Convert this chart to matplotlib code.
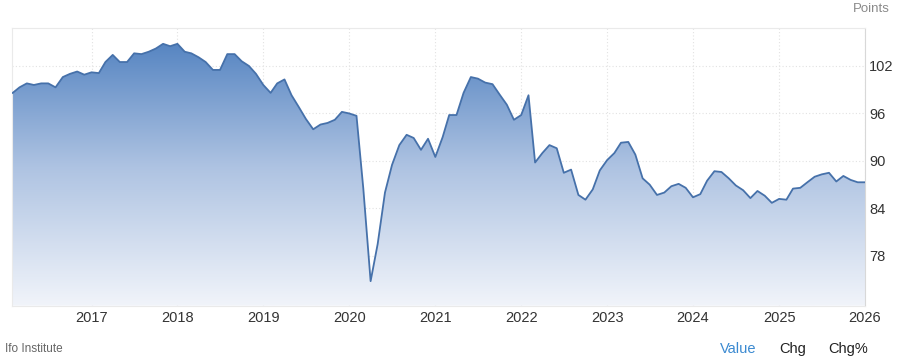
import numpy as np
import pandas as pd
import matplotlib
matplotlib.use("Agg")
import matplotlib.pyplot as plt
import matplotlib.dates as mdates
from matplotlib.colors import LinearSegmentedColormap

plt.rcParams['font.family'] = ['Liberation Sans', 'DejaVu Sans']

# Ifo business climate, monthly, Feb 2016 - Jan 2026 (points)
start_month = '2016-02-01'
values = [
    98.6, 99.3, 99.8, 99.6, 99.8, 99.8, 99.3, 100.6, 101.0, 101.3, 100.9,          # 2016
    101.2, 101.1, 102.5, 103.4, 102.5, 102.5, 103.6, 103.5, 103.8, 104.2, 104.8, 104.5,  # 2017
    104.8, 103.8, 103.6, 103.1, 102.5, 101.5, 101.5, 103.5, 103.5, 102.6, 102.0, 101.0,  # 2018
    99.6, 98.6, 99.8, 100.3, 98.3, 96.8, 95.3, 94.0, 94.6, 94.8, 95.2, 96.2,        # 2019
    96.0, 95.7, 86.5, 74.8, 79.5, 86.0, 89.5, 92.0, 93.3, 92.9, 91.4, 92.8,         # 2020
    90.5, 93.0, 95.8, 95.8, 98.6, 100.6, 100.4, 99.9, 99.7, 98.4, 97.1, 95.2,       # 2021
    95.8, 98.3, 89.8, 91.0, 92.0, 91.6, 88.5, 88.9, 85.7, 85.1, 86.4, 88.8,         # 2022
    90.1, 91.0, 92.3, 92.4, 90.8, 87.8, 87.0, 85.7, 86.0, 86.8, 87.1, 86.6,         # 2023
    85.4, 85.8, 87.5, 88.7, 88.6, 87.8, 86.9, 86.3, 85.3, 86.2, 85.6, 84.7,         # 2024
    85.2, 85.1, 86.5, 86.6, 87.3, 88.0, 88.3, 88.5, 87.4, 88.1, 87.6, 87.3,         # 2025
    87.3,                                                                             # 2026
]
y_ticks = [78, 84, 90, 96, 102]
x_years = list(range(2017, 2027))

dates = pd.date_range(start_month, periods=len(values), freq='MS')
x = mdates.date2num(dates)
y = np.array(values)

fig = plt.figure(figsize=(9, 3.63), dpi=100)
ax = fig.add_axes([12/900, 1 - 305.7/363, (865 - 12)/900, (305.7 - 28)/363])

ymin, ymax = 71.7, 106.8
xmin, xmax = x[0] - 3, x[-1]

# gradient fill under the line
cmap = LinearSegmentedColormap.from_list('fill', ['#f1f4fa', '#aec3e2', '#4c7ebe'])
grad = np.linspace(0, 1, 256).reshape(-1, 1)
im = ax.imshow(grad, extent=[xmin, xmax, ymin, ymax], origin='lower',
               aspect='auto', cmap=cmap, zorder=2)
poly = ax.fill_between(x, y, ymin, color='none', lw=0)
im.set_clip_path(poly.get_paths()[0], transform=ax.transData)

ax.plot(x, y, color='#4671aa', lw=1.3, zorder=3, solid_joinstyle='round')

ax.set_xlim(xmin, xmax)
ax.set_ylim(ymin, ymax)

ax.set_xticks(mdates.date2num([pd.Timestamp(f'{yr}-01-01') for yr in x_years]))
ax.set_xticklabels([str(yr) for yr in x_years])
ax.set_yticks(y_ticks)
ax.set_yticklabels([str(v) for v in y_ticks])
ax.yaxis.tick_right()
ax.tick_params(axis='both', length=0, labelsize=10.5, colors='#333333')
ax.tick_params(axis='x', pad=4)
ax.tick_params(axis='y', pad=3)

ax.grid(True, color='#e2e2e2', lw=0.8, ls=(0, (1, 2)), zorder=0)
ax.set_axisbelow(True)
for side in ['left', 'top', 'bottom']:
    ax.spines[side].set_color('#eaeaea')
    ax.spines[side].set_linewidth(0.8)
ax.spines['right'].set_color('#d8d8d8')
ax.spines['right'].set_linewidth(0.8)

fig.text(890/900, 1 - 9/363, 'Points', ha='right', va='center', fontsize=9.5, color='#8a8a8a')
fig.text(5/900, 1 - 349/363, 'Ifo Institute', ha='left', va='center', fontsize=8.5, color='#666666')
fig.text(720/900, 1 - 349/363, 'Value', ha='left', va='center', fontsize=10.5, color='#3b8ad1')
fig.text(779/900, 1 - 349/363, 'Chg', ha='left', va='center', fontsize=10.5, color='#222222')
fig.text(828/900, 1 - 349/363, 'Chg%', ha='left', va='center', fontsize=10.5, color='#222222')

fig.savefig('out.png', dpi=100)
